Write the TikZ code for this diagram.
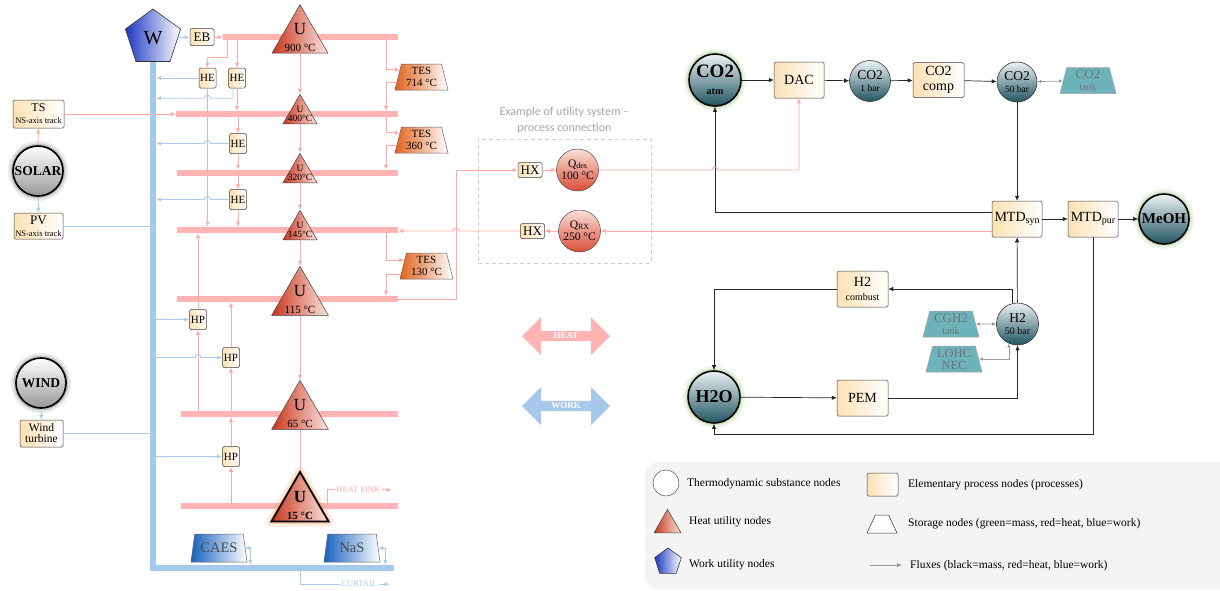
\documentclass[tikz,border=0pt]{standalone}
\usepackage{fontspec}
\setmainfont{Liberation Serif}
\newfontfamily\exfont{Carlito}
\usetikzlibrary{arrows.meta,calc,positioning,shapes.geometric,shapes.arrows}
\definecolor{HeatBar}{HTML}{FFB3B3}
\definecolor{HeatLine}{HTML}{FFA9A9}
\definecolor{WorkBus}{HTML}{A6C8EA}
\definecolor{WorkLine}{HTML}{A9CBEE}
\definecolor{ProcCream}{HTML}{FCE2B4}
\definecolor{SubstLight}{HTML}{EEF3F4}
\definecolor{SubstDark}{HTML}{1F5561}
\definecolor{StorTeal}{HTML}{6DB3BC}
\definecolor{TesDark}{HTML}{E1621C}
\definecolor{UtilDark}{HTML}{C8371E}
\definecolor{UtilLight}{HTML}{FBE3DE}
\definecolor{QDark}{HTML}{D94D37}
\definecolor{QLight}{HTML}{FBE0D8}
\definecolor{WorkDark}{HTML}{1B38C2}
\definecolor{CaesDark}{HTML}{1762BF}
\definecolor{GlowGreen}{HTML}{9CC77F}
\definecolor{GlowOrange}{HTML}{F7A25E}
\definecolor{LegendBg}{HTML}{F4F4F4}
\newcommand{\fs}[2]{\fontsize{#1}{#2}\selectfont}

\begin{document}
\begin{tikzpicture}[x=1pt,y=-1pt,>={Latex[length=5pt,width=4.5pt]},
  heatflow/.style={draw=HeatLine,line width=.9pt,->},
  heatline/.style={draw=HeatLine,line width=.9pt},
  workflow/.style={draw=WorkLine,line width=.9pt,->},
  workline/.style={draw=WorkLine,line width=.9pt},
  massflow/.style={draw=black!85,line width=.7pt,->},
  storflow/.style={draw=black!40,line width=.7pt,<->,>={Latex[length=4pt,width=3.5pt]}},
  heatbar/.style={rectangle,fill=HeatBar,inner sep=0pt,minimum height=6pt},
  busbar/.style={rectangle,fill=WorkBus,inner sep=0pt},
  halo/.style={preaction={draw=#1,line width=10pt,opacity=.18,line join=round},
               preaction={draw=#1,line width=5pt,opacity=.35,line join=round}},
  proc/.style={rectangle,rounded corners=1.5pt,draw=black!75,line width=.5pt,
               left color=ProcCream,right color=white,inner sep=.5pt,align=center},
  hbox/.style={proc,minimum width=17pt,minimum height=20pt,font=\fs{11}{12}},
  subst/.style={circle,draw=black!80,line width=.6pt,top color=SubstLight,
                bottom color=SubstDark,inner sep=0pt,align=center},
  endsub/.style={subst,draw=black,line width=1.6pt,halo=GlowGreen,minimum size=52pt},
  source/.style={circle,draw=black,line width=1.7pt,top color=white,bottom color=black!40,
                 inner sep=0pt,minimum size=50pt,font=\bfseries\fs{13.5}{14},halo=black!50},
  heatu/.style={regular polygon,regular polygon sides=3,draw=black!75,line width=.5pt,
                left color=UtilDark,right color=UtilLight,inner sep=0pt},
  utext/.style={align=center,inner sep=0pt},
  pent/.style={regular polygon,regular polygon sides=5,draw=black!80,line width=.6pt,
               left color=WorkDark,right color=white,inner sep=0pt},
  trap/.style={trapezium,trapezium stretches body,trapezium angle=72,inner sep=0pt,
               align=center,line width=.5pt},
  tes/.style={trap,draw=black!60,left color=TesDark,right color=white,
              minimum width=53pt,minimum height=26pt,font=\fs{11}{12.5}},
  stor/.style={trap,draw=black!35,fill=StorTeal,text=black!55,
               minimum width=56pt,minimum height=26pt},
  wstor/.style={trap,trapezium angle=69,draw=black!60,left color=CaesDark,right color=white,
                text=black!70,minimum width=56pt,minimum height=28pt,font=\fs{14.5}{15}},
  qnode/.style={circle,draw=black!70,line width=.5pt,top color=QLight,bottom color=QDark,
                minimum size=42pt,inner sep=0pt,align=center,font=\fs{11.5}{12}},
  bigarrow/.style={double arrow,double arrow head extend=9pt,minimum height=88pt,
                   minimum width=38pt,inner sep=0pt,text=white,font=\bfseries\fs{9}{10}},
  tag/.style={inner sep=1pt,font=\fs{8.5}{9}},
  legtext/.style={anchor=west,inner sep=0pt,font=\fs{11.5}{13}}]
\useasboundingbox (0,0) rectangle (1220,590);

% legend panel
\fill[LegendBg,rounded corners=14pt] (645,462) rectangle (1232,589);

% buses
\node[busbar,minimum width=6pt,minimum height=509pt] (bus) at (153,316.5) {};
\node[busbar,minimum width=244pt,minimum height=6pt] (busb) at (272,568) {};
\node[heatbar,minimum width=175pt] (bar900) at (310.5,37) {};
\node[heatbar,minimum width=222pt] (bar400) at (287,114) {};
\node[heatbar,minimum width=221pt] (bar320) at (287.5,173) {};
\node[heatbar,minimum width=221pt] (bar145) at (287.5,230) {};
\node[heatbar,minimum width=221pt] (bar115) at (287.5,299) {};
\node[heatbar,minimum width=217pt] (bar65) at (289.5,414) {};
\node[heatbar,minimum width=217pt] (bar15) at (289.5,506) {};
\coordinate (lane1) at (227,0);
\coordinate (tlane) at (386,0);
\coordinate (xlane) at (456,0);
\coordinate (sinkx) at (327,0);
\coordinate (curtx) at (300,0);

% sources
\node[source] (solar) at (38,171) {SOLAR};
\node[source] (wind) at (41,383) {WIND};
\node[proc,minimum width=51pt,minimum height=28pt] (ts) at (38.5,114) {\fs{12}{12}TS\\\fs{8.5}{9}NS-axis track};
\node[proc,minimum width=49pt,minimum height=26pt] (pv) at (38.5,226) {\fs{13}{12}PV\\\fs{8.5}{9}NS-axis track};
\node[proc,minimum width=43pt,minimum height=27pt,font=\fs{11.5}{11}] (windt) at (41.5,433.5) {Wind\\turbine};

% utilities
\node[pent,minimum size=58pt,font=\fs{20}{20}] (w) at (153,38) {W};
\node[proc,minimum width=24pt,minimum height=17pt,font=\fs{13}{13}] (eb) at (202,37) {EB};
\node[heatu,minimum size=64.7pt] (u900) at (300,37) {};
\node[utext,font=\fs{17}{17}] (u900t) at (u900) {U\\\fs{11}{12}900 °C};
\node[heatu,minimum size=39.3pt] (u400) at (300,114) {};
\node[utext,font=\fs{9.5}{9}] (u400t) at (u400) {U\\400°C};
\node[heatu,minimum size=39.3pt] (u320) at (300,173) {};
\node[utext,font=\fs{9.5}{9}] (u320t) at (u320) {U\\320°C};
\node[heatu,minimum size=39.3pt] (u145) at (300,230) {};
\node[utext,font=\fs{9.5}{9}] (u145t) at (u145) {U\\145°C};
\node[heatu,minimum size=65.5pt] (u115) at (300,299) {};
\node[utext,font=\fs{17}{17}] (u115t) at (u115) {U\\\fs{11}{12}115 °C};
\node[heatu,minimum size=65.5pt] (u65) at (300,413) {};
\node[utext,font=\fs{17}{17}] (u65t) at (u65) {U\\\fs{11}{12}65 °C};
\node[heatu,minimum size=66pt,draw=black,line width=1.8pt,halo=GlowOrange] (u15) at (300,505) {};
\node[utext,font=\bfseries\fs{17}{17}] (u15t) at (u15) {U\\\fs{11}{12}15 °C};
\node[tes] (tes714) at (421.5,77) {TES\\714 °C};
\node[tes] (tes360) at (421.5,140) {TES\\360 °C};
\node[tes] (tes130) at (426.5,266) {TES\\130 °C};
\node[hbox] (he1) at (207.5,78) {HE};
\node[hbox] (he2) at (237,78) {HE};
\node[hbox] (he3) at (238,143.5) {HE};
\node[hbox] (he4) at (238,199.5) {HE};
\node[hbox] (hp1) at (198,319.5) {HP};
\node[hbox] (hp2) at (231,357.5) {HP};
\node[hbox] (hp3) at (231,456.5) {HP};
\node[wstor] (caes) at (219,548) {CAES};
\node[wstor] (nas) at (352,548) {NaS};

% heat fluxes
\draw[heatflow] (eb) -- (eb -| bar900.west);
\draw[heatflow] (lane1 |- bar900.south) -- ++(0,17) -| (he1);
\draw[heatflow] (he2 |- bar900.south) -- (he2);
\draw[heatflow] (he2) -- (he2 |- bar400.north);
\draw[heatflow] (he3 |- bar400.south) -- (he3);
\draw[heatflow] (he3) -- (he3 |- bar320.north);
\draw[heatflow] (he4 |- bar320.south) -- (he4);
\draw[heatflow] (he4) -- (he4 |- bar145.north);
\draw[heatflow] (he1) -- (he1 |- bar145.north);
\draw[heatflow] (solar) -- (ts);
\draw[heatflow] (ts) -- (ts -| bar400.west);
\draw[heatflow] (u900) -- (u400);
\draw[heatflow] (u400) -- (u320);
\draw[heatflow] (u320) -- (u145);
\draw[heatflow] (u145) -- (u115);
\draw[heatflow] (u115) -- (u65);
\draw[heatline] (u65) -- (u15);
\draw[heatflow] (tlane |- bar900.south) |- ($(tes714.top left corner)!.23!(tes714.bottom left corner)$);
\draw[heatflow] ($(tes714.top left corner)!.7!(tes714.bottom left corner)$) -| (tlane |- bar400.north);
\draw[heatflow] (tlane |- bar400.south) |- ($(tes360.top left corner)!.23!(tes360.bottom left corner)$);
\draw[heatflow] ($(tes360.top left corner)!.7!(tes360.bottom left corner)$) -| (tlane |- bar320.north);
\draw[heatflow] (tlane |- bar145.south) |- ($(tes130.top left corner)!.28!(tes130.bottom left corner)$);
\draw[heatflow] ($(tes130.top left corner)!.8!(tes130.bottom left corner)$) -| (tlane |- bar115.north);
\draw[heatflow] (hp1 |- bar65.north) -- (hp1);
\draw[heatflow] (hp1) -- (hp1 |- bar145.south);
\draw[heatflow] (hp2 |- bar65.north) -- (hp2);
\draw[heatflow] (hp2) -- (hp2 |- bar115.south);
\draw[heatflow] (hp3 |- bar15.north) -- (hp3);
\draw[heatflow] (hp3) -- (hp3 |- bar65.south);
\draw[heatline] (sinkx |- bar15.north) |- ++(8,-13) node[right,tag,text=HeatLine] (sink) {HEAT SINK};
\draw[heatflow] (sink.east) -- ++(10,0);

% work fluxes
\draw[workflow] (w) -- (eb);
\draw[workflow] (solar) -- (pv);
\draw[workflow] (pv) -- (pv -| bus.east);
\draw[workflow] (wind) -- (windt);
\draw[workflow] (windt) -- (windt -| bus.east);
\draw[workflow] (he1) -- (he1 -| bus.east);
\draw[workflow] ([xshift=-4pt]he2.south) -- ++(0,10) coordinate (he2k)
  -- ($(he2k -| he1)+(3,0)$) arc[start angle=0,end angle=180,radius=3pt] -- (he2k -| bus.east);
\draw[workflow] (he3) -- ($(he3 -| he1)+(3,0)$) arc[start angle=0,end angle=180,radius=3pt] -- (he3 -| bus.east);
\draw[workflow] (he4) -- ($(he4 -| he1)+(3,0)$) arc[start angle=0,end angle=180,radius=3pt] -- (he4 -| bus.east);
\draw[workflow] (hp1 -| bus.east) -- (hp1);
\draw[workflow] (hp2 -| bus.east) -- ($(hp2 -| hp1)+(-3,0)$) arc[start angle=180,end angle=0,radius=3pt] -- (hp2);
\draw[workflow] (hp3 -| bus.east) -- (hp3);
\draw[workflow,<->] (caes) -| ($(caes.east |- busb.north)+(5,0)$);
\draw[workflow,<->] (nas) -| ($(nas.east |- busb.north)+(7,0)$);
\draw[workline] (curtx |- busb.south) |- ++(40,13) node[right,tag,text=WorkLine] (curtail) {CURTAIL};
\draw[workflow] (curtail.east) -- ++(11,0);

% utility system -- process connection
\node[draw=black!20,dash pattern=on 4pt off 3pt,line width=.8pt,minimum width=173pt,minimum height=124pt] (exbox) at (564.5,201) {};
\node[above=2pt of exbox,align=center,text=black!35,font=\exfont\fs{12}{15.5}] (extitle) {Example of utility system –\\process connection};
\node[proc,minimum width=24pt,minimum height=15pt,font=\fs{13}{13}] (hxa) at (530,170) {HX};
\node[qnode] (qdes) at (577.5,170) {Q\raisebox{-1pt}{\fs{8}{8}des}\\100 °C};
\node[proc,minimum width=24pt,minimum height=15pt,font=\fs{13}{13}] (hxb) at (532.5,231) {HX};
\node[qnode] (qrx) at (579.5,231) {Q\raisebox{-1pt}{\fs{8}{8}RX}\\250 °C};
\node[bigarrow,fill=HeatBar] (heat) at (566,336) {HEAT};
\node[bigarrow,fill=WorkBus] (work) at (566,406) {WORK};

% methanol process
\node[endsub,font=\bfseries\fs{19}{17}] (co2atm) at (715,80) {CO2\\\fs{10}{12}atm};
\node[proc,minimum width=50pt,minimum height=36pt,font=\fs{14}{15}] (dac) at (799,80) {DAC};
\node[subst,minimum size=41pt,font=\fs{13.5}{12}] (co2a) at (870,81) {CO2\\\fs{9.5}{11}1 bar};
\node[proc,minimum width=51pt,minimum height=35pt,font=\fs{14}{15}] (comp) at (938.5,80) {CO2\\comp};
\node[subst,minimum size=40pt,font=\fs{13.5}{12}] (co2b) at (1017,82) {CO2\\\fs{9.5}{11}50 bar};
\node[stor,font=\fs{13}{12}] (co2tank) at (1088,80.5) {CO2\\\fs{10}{11}tank};
\node[proc,minimum width=50pt,minimum height=36pt,font=\fs{14}{15}] (mtdsyn) at (1017,219) {MTD\raisebox{-1.5pt}{\fs{10}{10}syn}};
\node[proc,minimum width=50pt,minimum height=36pt,font=\fs{14}{15}] (mtdpur) at (1093,219) {MTD\raisebox{-1.5pt}{\fs{10}{10}pur}};
\node[endsub,minimum size=50pt,font=\bfseries\fs{15}{15}] (meoh) at (1164,219) {MeOH};
\node[proc,minimum width=51pt,minimum height=36pt,font=\fs{14}{14}] (h2comb) at (862.5,289) {H2\\\fs{10}{12}combust};
\node[subst,minimum size=42pt,font=\fs{13.5}{12}] (h2) at (1017.5,324) {H2\\\fs{10}{11}50 bar};
\node[stor,font=\fs{13}{12}] (cgh2) at (951,324) {CGH2\\\fs{10}{11}tank};
\node[stor,font=\fs{12.5}{12}] (lohc) at (954,359) {LOHC\\NEC};
\node[endsub,font=\bfseries\fs{18}{18}] (h2o) at (714,397) {H2O};
\node[proc,minimum width=51pt,minimum height=36pt,font=\fs{14}{15}] (pem) at (862.5,398) {PEM};

\draw[massflow] (co2atm) -- (dac);
\draw[massflow] (dac) -- (co2a);
\draw[massflow] (co2a) -- (comp);
\draw[massflow] (comp) -- (co2b);
\draw[massflow] (co2b) -- (mtdsyn);
\draw[massflow] (mtdsyn) -- (mtdpur);
\draw[massflow] (mtdpur) -- (meoh);
\draw[massflow] ([yshift=7pt]mtdsyn.west) -| (co2atm);
\draw[massflow] (mtdpur) -- ++(0,215) -| (h2o);
\draw[massflow] (h2) -- (mtdsyn);
\draw[massflow] (h2.105) |- (h2comb);
\draw[massflow] (h2comb) -| (h2o);
\draw[massflow] (h2o) -- (pem);
\draw[massflow] (pem) -| (h2);
\draw[storflow] (co2b) -- (co2tank);
\draw[storflow] (cgh2) -- (h2);
\draw[storflow] (lohc) -| (h2.246);
\draw[heatflow] (bar115.east) -| (xlane |- hxa) -- (hxa);
\draw[heatflow] (hxa) -- (qdes);
\draw[heatflow] (qdes) -- ($(co2atm |- qdes)+(-3,0)$) arc[start angle=180,end angle=0,radius=3pt] -| (dac);
\draw[heatflow] ([yshift=-12pt]mtdsyn.west) -- (qrx);
\draw[heatflow] (qrx) -- (hxb);
\draw[heatflow] (hxb) -- ($(xlane |- hxb)+(3,0)$) arc[start angle=0,end angle=180,radius=3pt] -- (hxb -| bar145.east);

% legend
\node[circle,draw=black!80,fill=white,minimum size=26pt] (lgsub) at (666,483) {};
\node[legtext] (lgsubt) at (687,484) {Thermodynamic substance nodes};
\node[heatu,minimum size=31pt] (lgheat) at (667.5,525) {};
\node[legtext] (lgheatt) at (689,522) {Heat utility nodes};
\node[pent,minimum size=28pt] (lgwork) at (668,562) {};
\node[legtext] (lgworkt) at (689,565) {Work utility nodes};
\node[proc,minimum width=31pt,minimum height=23pt] (lgproc) at (882.5,484.5) {};
\node[legtext] (lgproct) at (908,485) {Elementary process nodes (processes)};
\node[trap,draw=black!80,fill=white,trapezium angle=65,minimum width=30pt,minimum height=18pt] (lgstor) at (882,524) {\rule{0pt}{18pt}};
\node[legtext] (lgstort) at (908,524) {Storage nodes (green=mass, red=heat, blue=work)};
\coordinate (lgfa) at (870,565);
\coordinate (lgfb) at (902,565);
\draw[black!40,line width=.8pt,->] (lgfa) -- (lgfb);
\node[legtext] (lgfluxt) at (910,566) {Fluxes (black=mass, red=heat, blue=work)};
\end{tikzpicture}
\end{document}
